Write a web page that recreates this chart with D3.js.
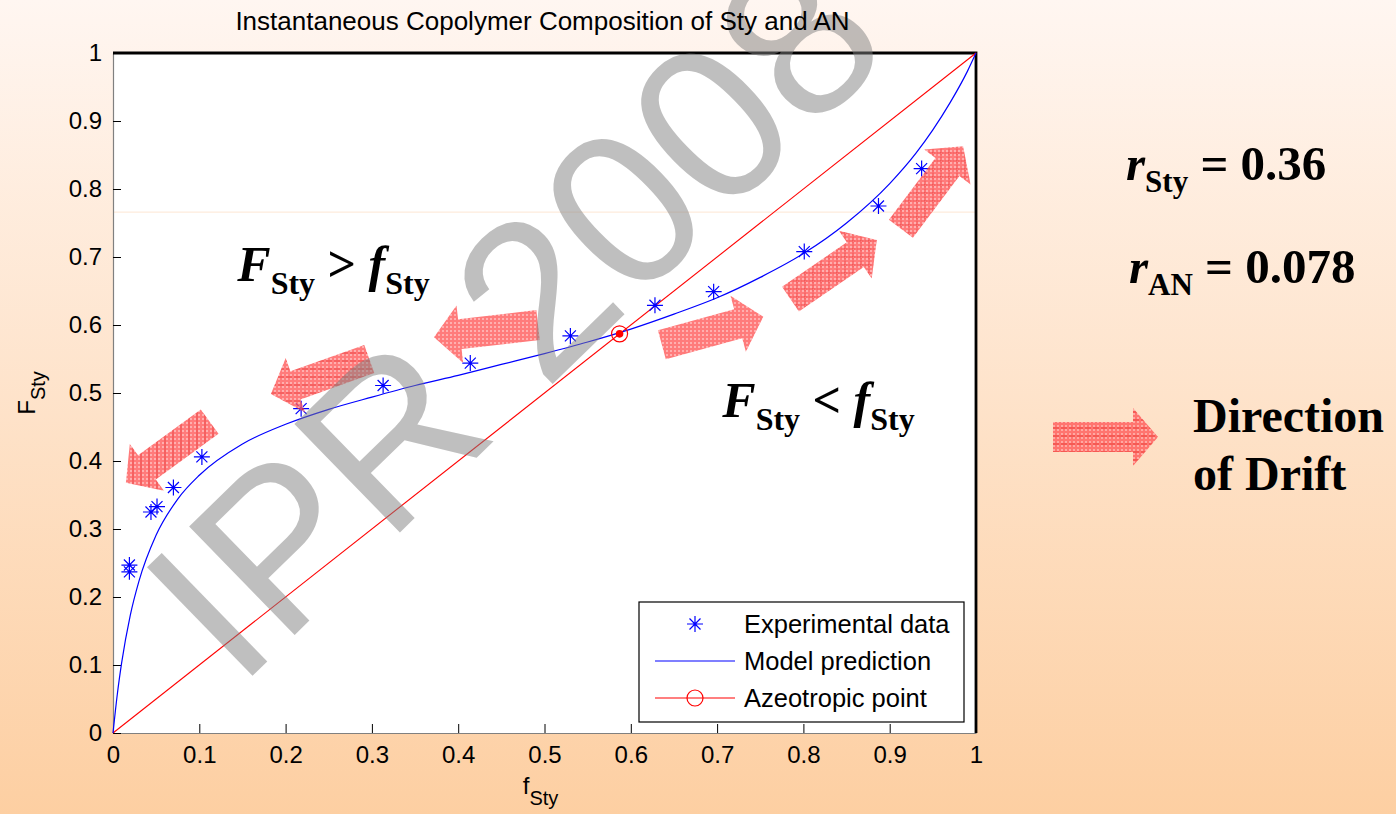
<!DOCTYPE html>
<html>
<head>
<meta charset="utf-8">
<script src="https://cdn.jsdelivr.net/npm/d3@7"></script>
<style>
  html, body { margin: 0; padding: 0; overflow: hidden; }
  svg { display: block; }
</style>
</head>
<body>
<script>
// experimental points: monomer feed f_Sty and copolymer F_Sty
const expFeed = [0.019, 0.019, 0.044, 0.051, 0.070, 0.103, 0.218, 0.313, 0.414, 0.530, 0.628, 0.696, 0.801, 0.887, 0.937];
const expCopo = [0.247, 0.237, 0.325, 0.333, 0.361, 0.406, 0.477, 0.511, 0.544, 0.584, 0.629, 0.649, 0.708, 0.775, 0.830];

// model prediction curve
const modelFeed = [0, 0.005, 0.01, 0.02, 0.03, 0.05, 0.075, 0.1, 0.15, 0.2, 0.25, 0.3, 0.35, 0.4, 0.45, 0.5,
  0.55, 0.6, 0.65, 0.7, 0.75, 0.8, 0.85, 0.9, 0.93, 0.95, 0.97, 0.99, 1];
const modelCopo = [0, 0.057, 0.103, 0.173, 0.223, 0.291, 0.344, 0.379, 0.425, 0.454, 0.476, 0.494, 0.511, 0.526, 0.542, 0.558,
  0.575, 0.594, 0.616, 0.640, 0.670, 0.705, 0.750, 0.808, 0.852, 0.887, 0.927, 0.973, 1];

// F = f line and azeotrope
const diagFeed = [0, 1];
const diagCopo = [0, 1];
const azeoFeed = 0.587;
const azeoCopo = 0.587;

const xTicks = [0, 0.1, 0.2, 0.3, 0.4, 0.5, 0.6, 0.7, 0.8, 0.9, 1];
const yTicks = [0, 0.1, 0.2, 0.3, 0.4, 0.5, 0.6, 0.7, 0.8, 0.9, 1];
const tickLabels = ["0", "0.1", "0.2", "0.3", "0.4", "0.5", "0.6", "0.7", "0.8", "0.9", "1"];

// drift arrows, tail -> tip, in (f, F)
const driftTail = [[0.112, 0.458], [0.297, 0.550], [0.4925, 0.600], [0.636, 0.571], [0.785, 0.638], [0.913, 0.7415]];
const driftTip = [[0.015, 0.368], [0.183, 0.4985], [0.372, 0.582], [0.7535, 0.612], [0.885, 0.725], [0.985, 0.863]];
const driftFill = ["url(#hatchV)", "url(#hatchH)", "url(#dots)", "url(#dots)", "url(#hatchX)", "url(#hatchX)"];

const legendLabels = ["Experimental data", "Model prediction", "Azeotropic point"];

const W = 1396, H = 814;
const margin = { top: 53, left: 113, right: 420, bottom: 81 };
const width = W - margin.left - margin.right;
const height = H - margin.top - margin.bottom;
const sans = "'Liberation Sans', Arial, sans-serif";
const serif = "'Liberation Serif', 'Times New Roman', serif";

const svg = d3.select("body").append("svg")
  .attr("width", W)
  .attr("height", H);

const defs = svg.append("defs");
const bg = defs.append("linearGradient").attr("id", "bg")
  .attr("x1", 0).attr("y1", 0).attr("x2", 0).attr("y2", 1);
bg.append("stop").attr("offset", "0%").attr("stop-color", "#fff6f1");
bg.append("stop").attr("offset", "100%").attr("stop-color", "#fdcfa2");

function makePattern(id, extra) {
  const p = defs.append("pattern").attr("id", id)
    .attr("patternUnits", "userSpaceOnUse")
    .attr("width", 8).attr("height", 8);
  p.append("rect").attr("width", 8).attr("height", 8).attr("fill", "#ff5656");
  [[2, 2], [6, 2], [2, 6], [6, 6]].forEach(c => {
    p.append("circle").attr("cx", c[0]).attr("cy", c[1]).attr("r", 0.75).attr("fill", "#fff");
  });
  if (extra) extra(p);
}
makePattern("dots");
makePattern("hatchV", p => p.append("path").attr("d", "M4,0V8").attr("stroke", "#e00000").attr("stroke-width", 0.8));
makePattern("hatchH", p => p.append("path").attr("d", "M0,4H3M5,4H8").attr("stroke", "#e00000").attr("stroke-width", 0.8));
makePattern("hatchX", p => p.append("path").attr("d", "M0,4H8M4,0V8").attr("stroke", "#e00000").attr("stroke-width", 0.6).attr("stroke-dasharray", "1.5,1"));

svg.append("rect").attr("width", W).attr("height", H).attr("fill", "url(#bg)");

const g = svg.append("g")
  .attr("transform", "translate(" + margin.left + "," + margin.top + ")");

const x = d3.scaleLinear().domain([0, 1]).range([0, width]);
const y = d3.scaleLinear().domain([0, 1]).range([height, 0]);

g.append("rect").attr("width", width).attr("height", height).attr("fill", "#fff");

// faint slide guide line seen across the plot
g.append("line")
  .attr("x1", 0).attr("x2", width)
  .attr("y1", y(0.766)).attr("y2", y(0.766))
  .attr("stroke", "#fde6d3").attr("stroke-width", 1);

// watermark
svg.append("text")
  .attr("transform", "translate(238,690) rotate(-44.2)")
  .attr("font-family", sans)
  .attr("font-size", 220)
  .attr("fill", "#808080")
  .attr("fill-opacity", 0.5)
  .text("IPR 2008");

// title
svg.append("text")
  .attr("x", margin.left + width / 2 - 2)
  .attr("y", 30)
  .attr("text-anchor", "middle")
  .attr("font-family", sans)
  .attr("font-size", 26)
  .attr("fill", "#000")
  .text("Instantaneous Copolymer Composition of Sty and AN");

// axes
const xAxis = g.append("g")
  .attr("transform", "translate(0," + height + ")")
  .call(d3.axisBottom(x).tickValues(xTicks).tickFormat((d, i) => tickLabels[i])
    .tickSizeInner(-9).tickSizeOuter(0).tickPadding(13));
const yAxis = g.append("g")
  .call(d3.axisLeft(y).tickValues(yTicks).tickFormat((d, i) => tickLabels[i])
    .tickSizeInner(-8).tickSizeOuter(0).tickPadding(11));

[xAxis, yAxis].forEach(a => {
  a.select(".domain").attr("stroke", "#808080").attr("stroke-width", 1.2);
  a.selectAll(".tick line").attr("stroke", "#000");
  a.selectAll(".tick text").attr("font-family", sans).attr("font-size", 24).attr("fill", "#000");
});
xAxis.selectAll(".tick text").attr("dy", "0.71em");

// box top & right
g.append("path")
  .attr("d", "M0,0H" + width + "V" + height)
  .attr("fill", "none")
  .attr("stroke", "#000")
  .attr("stroke-width", 2.8);

// axis labels
const xl = svg.append("text")
  .attr("x", margin.left + width / 2 - 4)
  .attr("y", 794)
  .attr("text-anchor", "middle")
  .attr("font-family", sans)
  .attr("fill", "#000");
xl.append("tspan").attr("font-size", 24).text("f");
xl.append("tspan").attr("font-size", 20).attr("dy", 11).text("Sty");

const yl = svg.append("text")
  .attr("transform", "translate(35," + (margin.top + height / 2) + ") rotate(-90)")
  .attr("text-anchor", "middle")
  .attr("font-family", sans)
  .attr("fill", "#000");
yl.append("tspan").attr("font-size", 24).text("F");
yl.append("tspan").attr("font-size", 20).attr("dy", 10).text("Sty");

// lines
const line = d3.line().x(d => x(d[0])).y(d => y(d[1]));

g.append("path")
  .datum(diagFeed.map((f, i) => [f, diagCopo[i]]))
  .attr("d", line)
  .attr("fill", "none")
  .attr("stroke", "#ff0000")
  .attr("stroke-width", 1.1);

g.append("path")
  .datum(modelFeed.map((f, i) => [f, modelCopo[i]]))
  .attr("d", line.curve(d3.curveMonotoneX))
  .attr("fill", "none")
  .attr("stroke", "#0000ff")
  .attr("stroke-width", 1.2);

// experimental stars
const star = "M-8,0H8M0,-8V8M-5.5,-5.5L5.5,5.5M-5.5,5.5L5.5,-5.5";
g.selectAll(".exp")
  .data(expFeed.map((f, i) => [f, expCopo[i]]))
  .enter()
  .append("path")
  .attr("class", "exp")
  .attr("transform", d => "translate(" + x(d[0]) + "," + y(d[1]) + ")")
  .attr("d", star)
  .attr("fill", "none")
  .attr("stroke", "#0000ff")
  .attr("stroke-width", 1.2);

// azeotrope
g.append("circle")
  .attr("cx", x(azeoFeed)).attr("cy", y(azeoCopo)).attr("r", 8)
  .attr("fill", "none").attr("stroke", "#ff0000").attr("stroke-width", 1.2);
g.append("circle")
  .attr("cx", x(azeoFeed)).attr("cy", y(azeoCopo)).attr("r", 3.8)
  .attr("fill", "#ff0000");

// drift arrows
function arrowPath(t, p, sw, hw, hl) {
  const dx = p[0] - t[0], dy = p[1] - t[1];
  const len = Math.sqrt(dx * dx + dy * dy);
  const ux = dx / len, uy = dy / len;
  const nx = -uy, ny = ux;
  const bx = p[0] - ux * hl, by = p[1] - uy * hl;
  const pts = [
    [t[0] + nx * sw / 2, t[1] + ny * sw / 2],
    [bx + nx * sw / 2, by + ny * sw / 2],
    [bx + nx * hw / 2, by + ny * hw / 2],
    p,
    [bx - nx * hw / 2, by - ny * hw / 2],
    [bx - nx * sw / 2, by - ny * sw / 2],
    [t[0] - nx * sw / 2, t[1] - ny * sw / 2]
  ];
  return "M" + pts.map(q => q[0].toFixed(1) + "," + q[1].toFixed(1)).join("L") + "Z";
}

g.selectAll(".drift")
  .data(driftTail.map((t, i) => ({ tail: t, tip: driftTip[i], fill: driftFill[i] })))
  .enter()
  .append("path")
  .attr("class", "drift")
  .attr("d", d => arrowPath([x(d.tail[0]), y(d.tail[1])], [x(d.tip[0]), y(d.tip[1])], 30, 58, 26))
  .attr("fill", d => d.fill)
  .attr("opacity", 0.78);

// annotations inside plot
function ratioText(sel, xPos, yPos, sign) {
  const t = sel.append("text")
    .attr("x", xPos).attr("y", yPos)
    .attr("font-family", serif)
    .attr("font-weight", "bold")
    .attr("fill", "#000");
  t.append("tspan").attr("font-size", 50).attr("font-style", "italic").text("F");
  t.append("tspan").attr("font-size", 32).attr("dy", 13).text("Sty");
  t.append("tspan").attr("font-size", 50).attr("dy", -13).text(" " + sign + " ");
  t.append("tspan").attr("font-size", 50).attr("font-style", "italic").text("f");
  t.append("tspan").attr("font-size", 32).attr("dy", 13).text("Sty");
}
ratioText(g, x(0.144), y(0.665), ">");
ratioText(g, x(0.706), y(0.464), "<");

// reactivity ratios
function rText(xPos, yPos, sub, val) {
  const t = svg.append("text")
    .attr("x", xPos).attr("y", yPos)
    .attr("font-family", serif)
    .attr("font-weight", "bold")
    .attr("fill", "#000");
  t.append("tspan").attr("font-size", 49).attr("font-style", "italic").text("r");
  t.append("tspan").attr("font-size", 31).attr("dy", 12).text(sub);
  t.append("tspan").attr("font-size", 49).attr("dy", -12).text(" = " + val);
}
rText(1126, 180, "Sty", "0.36");
rText(1129, 283, "AN", "0.078");

// drift legend
svg.append("path")
  .attr("d", arrowPath([1053, 437], [1158, 437], 30, 58, 25))
  .attr("fill", "url(#hatchH)")
  .attr("opacity", 0.78);
svg.append("text")
  .attr("x", 1193).attr("y", 432)
  .attr("font-family", serif).attr("font-weight", "bold").attr("font-size", 48)
  .attr("fill", "#000")
  .text("Direction");
svg.append("text")
  .attr("x", 1193).attr("y", 490)
  .attr("font-family", serif).attr("font-weight", "bold").attr("font-size", 48)
  .attr("fill", "#000")
  .text("of Drift");

// legend
const lg = g.append("g").attr("transform", "translate(" + (width - 337) + "," + (height - 131) + ")");
lg.append("rect").attr("width", 325).attr("height", 120)
  .attr("fill", "#fff").attr("stroke", "#000").attr("stroke-width", 1.2);
const rows = lg.selectAll(".row")
  .data(legendLabels)
  .enter()
  .append("g")
  .attr("class", "row")
  .attr("transform", (d, i) => "translate(0," + (22 + i * 37) + ")");
rows.append("text")
  .attr("x", 105)
  .attr("dy", "0.36em")
  .attr("font-family", sans)
  .attr("font-size", 25.5)
  .attr("fill", "#000")
  .text(d => d);
rows.filter((d, i) => i === 0).append("path")
  .attr("transform", "translate(56,0)")
  .attr("d", star).attr("fill", "none").attr("stroke", "#0000ff").attr("stroke-width", 1.2);
rows.filter((d, i) => i === 1).append("line")
  .attr("x1", 16).attr("x2", 96).attr("stroke", "#0000ff").attr("stroke-width", 1.2);
rows.filter((d, i) => i === 2).append("line")
  .attr("x1", 16).attr("x2", 96).attr("stroke", "#ff0000").attr("stroke-width", 1.2);
rows.filter((d, i) => i === 2).append("circle")
  .attr("cx", 56).attr("r", 8).attr("fill", "none").attr("stroke", "#ff0000").attr("stroke-width", 1.2);
</script>
</body>
</html>
